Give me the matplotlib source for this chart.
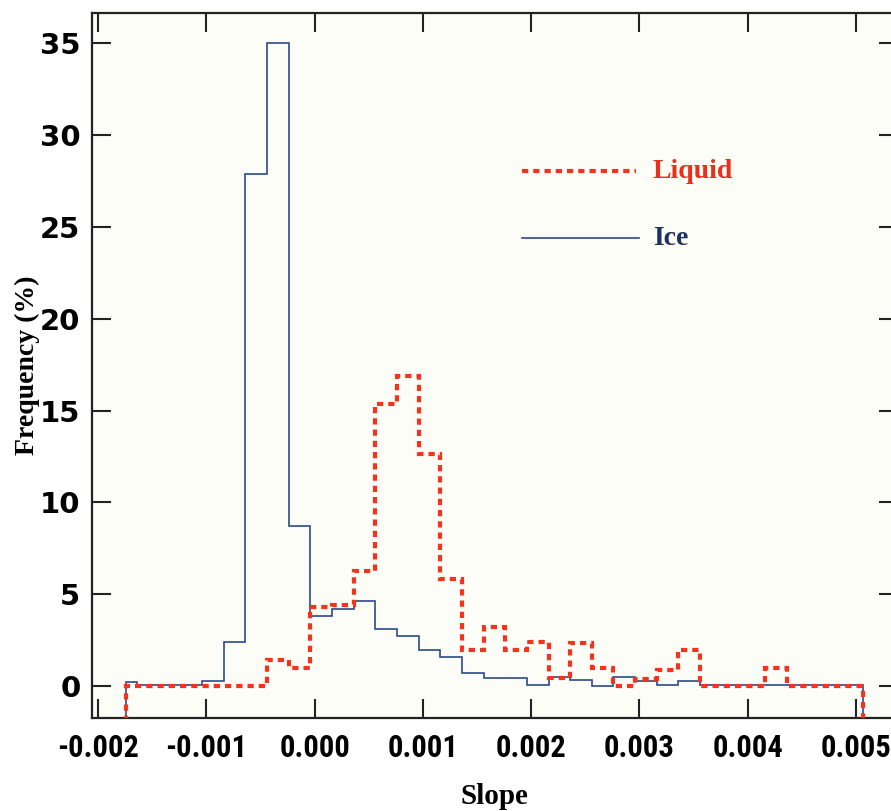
import numpy as np
import matplotlib
matplotlib.use("Agg")
import matplotlib.pyplot as plt
from matplotlib import font_manager

# bin centres of the slope histogram (step plot, bin width 0.0002)
slope_centres = np.arange(-0.00174, 0.00507, 0.0002)

# frequencies (%), one per bin
ice_freq = [0.2, 0.05, 0.05, 0.05, 0.3, 2.4, 27.9, 35.0, 8.7, 3.8,
            4.2, 4.65, 3.1, 2.72, 1.96, 1.6, 0.7, 0.45, 0.45, 0.05,
            0.5, 0.33, 0.0, 0.5, 0.25, 0.05, 0.29, 0.05, 0.05, 0.05,
            0.05, 0.05, 0.05, 0.05, 0.05]
liquid_freq = [0.0, 0.0, 0.0, 0.0, 0.0, 0.0, 0.0, 1.42, 0.96, 4.3,
               4.4, 6.28, 15.36, 16.9, 12.64, 5.81, 1.96, 3.2, 1.96, 2.41,
               0.42, 2.32, 0.96, 0.0, 0.4, 0.9, 1.96, 0.0, 0.0, 0.0,
               0.96, 0.0, 0.0, 0.0, 0.0]

x_ticks = [-0.002, -0.001, 0.000, 0.001, 0.002, 0.003, 0.004, 0.005]
x_labels = ["-0.002", "-0.001", "0.000", "0.001", "0.002", "0.003", "0.004", "0.005"]
y_ticks = [0, 5, 10, 15, 20, 25, 30, 35]

red = "#f5331d"
navy = "#2b4a8e"


def pick_font(names):
    for n in names:
        try:
            font_manager.findfont(n, fallback_to_default=False)
            return n
        except Exception:
            pass
    return "DejaVu Sans"


narrow = pick_font(["Liberation Sans Narrow", "Roboto Condensed", "DejaVu Sans"])

# step edges: half bins at both ends, midpoints in between
edges = np.concatenate([[slope_centres[0]],
                        (slope_centres[:-1] + slope_centres[1:]) / 2,
                        [slope_centres[-1]]])

fig = plt.figure(figsize=(8.91, 8.11), dpi=100)
ax = fig.add_axes([91.5 / 891, 1 - 718 / 811, 806.5 / 891, 704.7 / 811])
ax.set_facecolor("#fdfdf7")

ax.stairs(ice_freq, edges, baseline=-10, fill=False, color=navy, linewidth=1.2, zorder=2)
ax.stairs(liquid_freq, edges, baseline=-10, fill=False, color=red, linewidth=3.0,
          linestyle=(0, (1.5, 1.2)), zorder=3)

ax.set_xlim(-0.00206, 0.005387)
ax.set_ylim(-1.74, 36.64)

ax.set_xticks(x_ticks)
ax.set_xticklabels(x_labels, fontfamily=narrow, fontweight="bold", fontsize=22)
ax.set_yticks(y_ticks)
ax.set_yticklabels([str(v) for v in y_ticks], fontfamily="DejaVu Sans", fontweight="bold", fontsize=21)
ax.tick_params(direction="in", length=14, width=1.5, top=True, right=True, color="#222222")
ax.tick_params(axis="x", pad=11)
ax.tick_params(axis="y", pad=8)
for s in ax.spines.values():
    s.set_linewidth(1.6)
    s.set_color("#222222")

ax.set_xlabel("Slope", fontfamily="Liberation Serif", fontweight="bold", fontsize=21, labelpad=14)
ax.set_ylabel("Frequency (%)", fontfamily="Liberation Serif", fontweight="bold", fontsize=20, labelpad=0)

# hand-made legend
ax.plot([0.534, 0.675], [0.776, 0.776], transform=ax.transAxes, color=red,
        linewidth=3.0, linestyle=(0, (1.5, 1.2)))
ax.plot([0.534, 0.679], [0.681, 0.681], transform=ax.transAxes, color=navy, linewidth=1.2)
ax.text(0.696, 0.776, "Liquid", transform=ax.transAxes, color="#e8301c", va="center",
        fontfamily="Liberation Serif", fontweight="bold", fontsize=20)
ax.text(0.696, 0.681, "Ice", transform=ax.transAxes, color="#1d325e", va="center",
        fontfamily="Liberation Serif", fontweight="bold", fontsize=20)

fig.savefig("out.png", dpi=100, facecolor="white")
